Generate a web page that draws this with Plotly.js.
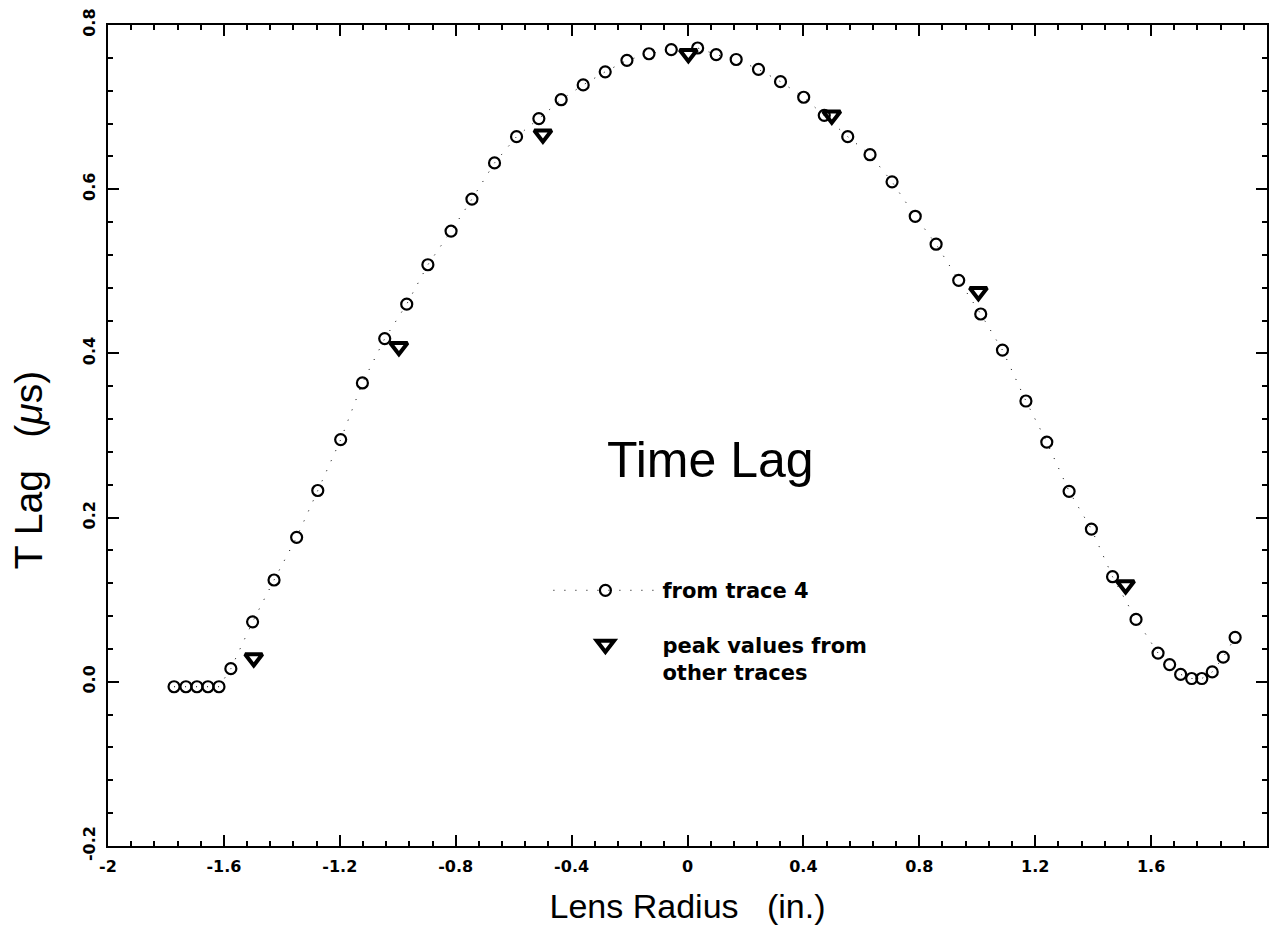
<!DOCTYPE html>
<html>
<head>
<meta charset="utf-8">
<script src="https://cdn.plot.ly/plotly-3.0.1.min.js"></script>
<style>html,body{margin:0;padding:0;background:#fff;}#chart{width:1271px;height:931px;}</style>
</head>
<body>
<div id="chart"></div>
<script>
// Trace 4 lag values (circles)
const traceX = [-1.772,-1.731,-1.693,-1.655,-1.617,-1.576,-1.501,-1.427,-1.349,-1.276,-1.197,-1.122,-1.045,-0.969,-0.896,-0.816,-0.744,-0.666,-0.590,-0.513,-0.436,-0.360,-0.284,-0.209,-0.133,-0.056,0.035,0.099,0.168,0.245,0.321,0.401,0.472,0.553,0.630,0.706,0.786,0.858,0.936,1.012,1.087,1.168,1.240,1.317,1.394,1.467,1.548,1.624,1.664,1.702,1.740,1.775,1.811,1.849,1.890];
const traceY = [-0.006,-0.006,-0.006,-0.006,-0.006,0.016,0.073,0.124,0.176,0.233,0.295,0.364,0.418,0.460,0.508,0.549,0.588,0.632,0.664,0.686,0.709,0.727,0.743,0.757,0.765,0.770,0.772,0.764,0.758,0.746,0.731,0.712,0.690,0.664,0.642,0.609,0.567,0.533,0.489,0.448,0.404,0.342,0.292,0.232,0.186,0.128,0.076,0.035,0.021,0.009,0.004,0.004,0.012,0.030,0.054];
// Peak values from other traces (triangles)
const peakX = [-1.497,-0.996,-0.499,0.003,0.498,1.004,1.512];
const peakY = [0.029,0.408,0.667,0.765,0.690,0.475,0.118];

const xTickVals = [-2,-1.6,-1.2,-0.8,-0.4,0,0.4,0.8,1.2,1.6,2];
const xTickText = ['-2','-1.6','-1.2','-0.8','-0.4','0','0.4','0.8','1.2','1.6','2'];
const yTickVals = [-0.2,0,0.2,0.4,0.6,0.8];
const yTickText = ['-0.2','0.0','0.2','0.4','0.6','0.8'];

const seriesNames = ['from trace 4','peak values from<br>other traces'];

// minor tick positions (axis decoration only)
function steps(a, b, d){ const out=[]; const n=Math.round((b-a)/d); for(let i=0;i<=n;i++) out.push(+(a+i*d).toFixed(4)); return out; }
const xMinor = steps(-2, 2, 0.08);
const yMinor = steps(-0.2, 0.8, 0.04);

const axisCommon = {
  showgrid:false, zeroline:false, showline:true, linecolor:'#000', linewidth:2,
  mirror:'allticks', ticks:'inside', ticklen:11, tickwidth:2, tickcolor:'#000',
  tickfont:{family:'DejaVu Sans', size:16, color:'#000', weight:'bold'},
  ticklabelstandoff:5
};

const data = [
  {x:traceX, y:traceY, name:seriesNames[0], legendgroup:'a', type:'scatter', mode:'lines+markers',
   line:{color:'#000', width:1, dash:'1px,10px'},
   marker:{symbol:'circle-open', size:11, color:'#000', line:{width:2.2, color:'#000'}}},
  {x:peakX, y:peakY, name:seriesNames[1], legendgroup:'b', type:'scatter', mode:'markers',
   marker:{symbol:'triangle-down-open', size:15, color:'#000', line:{width:4, color:'#000'}}}
];

const layout = {
  width:1271, height:931,
  margin:{l:108, r:4, t:25, b:85},
  paper_bgcolor:'#fff', plot_bgcolor:'#fff',
  font:{family:'Liberation Sans', color:'#000'},
  xaxis:Object.assign({}, axisCommon, {
    range:[-2,2], tickmode:'array', tickvals:xTickVals, ticktext:xTickText,
    minor:{tickmode:'array', tickvals:xMinor, ticks:'inside', ticklen:5, tickwidth:2, tickcolor:'#000'},
    title:{text:'Lens Radius   (in.)', font:{family:'Liberation Sans', size:34, color:'#000'}, standoff:19}
  }),
  yaxis:Object.assign({}, axisCommon, {
    range:[-0.2,0.8], tickmode:'array', tickvals:yTickVals, ticktext:yTickText, tickangle:-90,
    minor:{tickmode:'array', tickvals:yMinor, ticks:'inside', ticklen:5, tickwidth:2, tickcolor:'#000'}
  }),
  showlegend:true,
  legend:{x:0.38, y:0.336, xanchor:'left', yanchor:'top', bgcolor:'rgba(0,0,0,0)',
    font:{family:'DejaVu Sans', size:21, color:'#000', weight:'bold'},
    itemwidth:104, valign:'top', traceorder:'grouped', tracegroupgap:24},
  annotations:[
    {text:'Time Lag', xref:'paper', yref:'paper', x:0.52, y:0.47, showarrow:false,
     font:{family:'Liberation Sans', size:50, color:'#000'}},
    {text:'T Lag   (<i>μ</i>s)', xref:'paper', yref:'paper', x:-0.068, y:0.458, textangle:-90,
     xanchor:'center', yanchor:'middle', showarrow:false,
     font:{family:'Liberation Sans', size:39, color:'#000'}}
  ]
};

Plotly.newPlot('chart', data, layout, {staticPlot:true, displayModeBar:false});
</script>
</body>
</html>
